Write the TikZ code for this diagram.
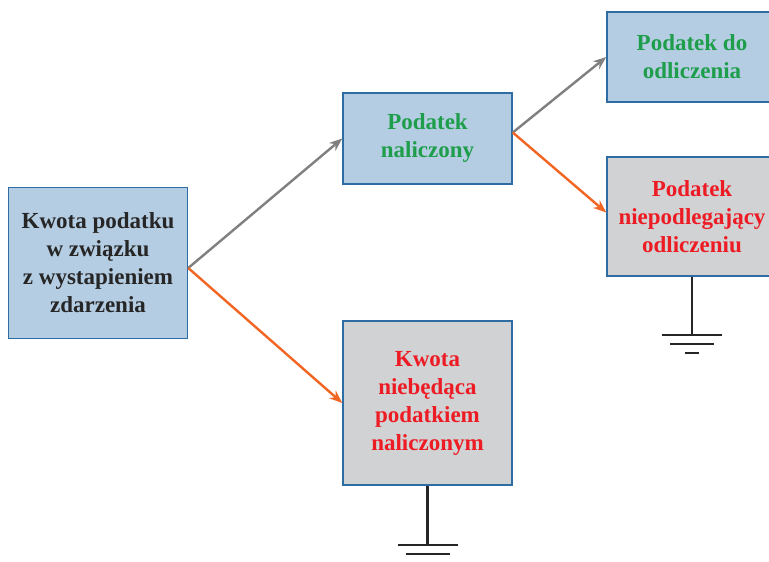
\documentclass[tikz,border=0pt]{standalone}
\usepackage{fontspec}
\setmainfont{Liberation Serif}
\usetikzlibrary{arrows.meta}
\definecolor{boxblue}{HTML}{B4CDE3}
\definecolor{boxgray}{HTML}{D1D2D4}
\definecolor{edgeblue}{HTML}{2E6DA4}
\definecolor{txtgreen}{HTML}{1E9E4A}
\definecolor{txtred}{HTML}{ED1C24}
\definecolor{arrgray}{HTML}{808080}
\definecolor{arrorange}{HTML}{F26522}
\begin{document}
\begin{tikzpicture}[x=1pt,y=-1pt,
  box/.style={draw=edgeblue,line width=1.5pt,inner sep=0pt,align=center,
    font=\bfseries\fontsize{23}{28}\selectfont},
  bluebox/.style={box,fill=boxblue},
  graybox/.style={box,fill=boxgray},
  garrow/.style={draw=arrgray,line width=2.4pt,-{Stealth[length=13pt,width=10pt]}},
  oarrow/.style={draw=arrorange,line width=2.4pt,-{Stealth[length=13pt,width=10pt]}},
  gnd/.style={draw=black!85,line width=2.2pt}]
\clip (0,0) rectangle (769,562);
\fill[white] (0,0) rectangle (769,562);

\node[bluebox,minimum width=179pt,minimum height=151pt,text=black!85] (A) at (98,263)
  {Kwota podatku\\w związku\\z wystapieniem\\zdarzenia};
\node[bluebox,minimum width=169pt,minimum height=91pt,text=txtgreen] (B) at (427.5,138.5)
  {Podatek\\naliczony};
\node[bluebox,minimum width=170pt,minimum height=90pt,text=txtgreen] (C) at (692,57)
  {Podatek do\\odliczenia};
\node[graybox,minimum width=170pt,minimum height=119pt,text=txtred] (D) at (692,216.5)
  {Podatek\\niepodlegający\\odliczeniu};
\node[graybox,minimum width=169pt,minimum height=164pt,text=txtred] (E) at (427.5,403)
  {Kwota\\niebędąca\\podatkiem\\naliczonym};

\coordinate (As) at ([yshift=-5pt]A.east);
\coordinate (Bs) at ([yshift=6pt]B.east);
\coordinate (Dt) at ([yshift=4pt]D.west);
\draw[garrow] (As) -- (B.west);
\draw[oarrow] (As) -- (E.west);
\draw[garrow] (Bs) -- (C.west);
\draw[oarrow] (Bs) -- (Dt);

% ground symbols
\coordinate (g1) at ([yshift=-58pt]D.south);
\draw[gnd] (D.south) -- (g1);
\draw[gnd] ([xshift=-30pt]g1) -- ([xshift=30pt]g1);
\draw[gnd] ([xshift=-22pt,yshift=-9pt]g1) -- ([xshift=22pt,yshift=-9pt]g1);
\draw[gnd] ([xshift=-7pt,yshift=-18pt]g1) -- ([xshift=7pt,yshift=-18pt]g1);

\coordinate (g2) at ([yshift=-59pt]E.south);
\draw[gnd] (E.south) -- (g2);
\draw[gnd] ([xshift=-30pt]g2) -- ([xshift=30pt]g2);
\draw[gnd] ([xshift=-22pt,yshift=-9pt]g2) -- ([xshift=22pt,yshift=-9pt]g2);
\draw[gnd] ([xshift=-7pt,yshift=-18pt]g2) -- ([xshift=7pt,yshift=-18pt]g2);
\end{tikzpicture}
\end{document}
